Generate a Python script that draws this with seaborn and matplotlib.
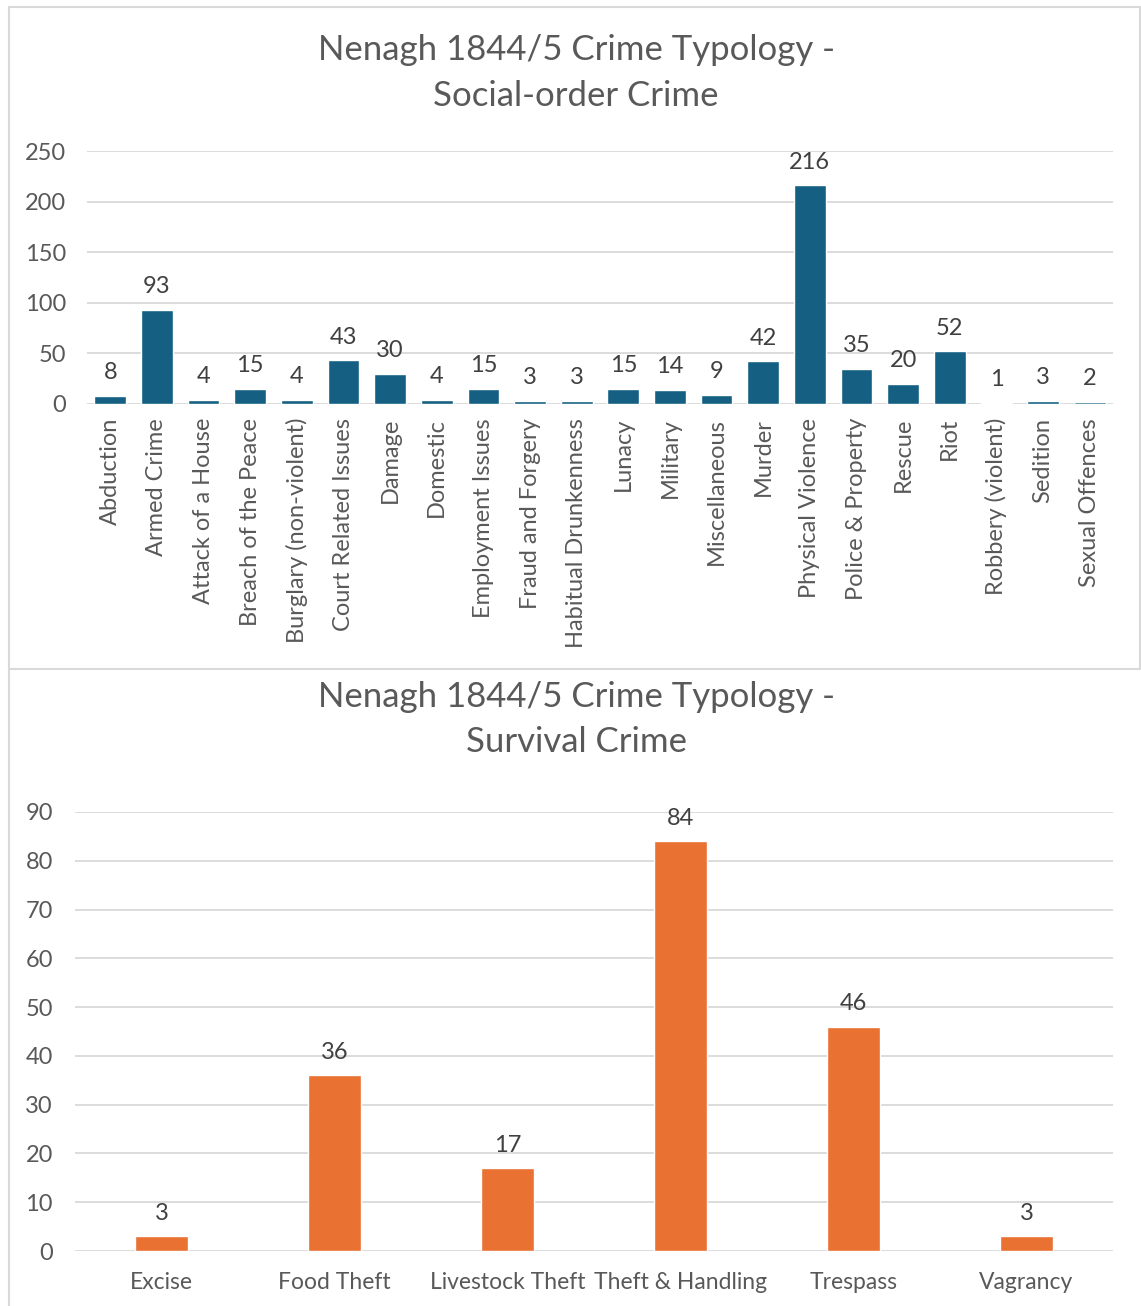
import matplotlib
matplotlib.use("Agg")
import matplotlib.pyplot as plt
from matplotlib.lines import Line2D
import seaborn as sns
import pandas as pd

# Social-order crime categories and counts
social_categories = [
    "Abduction", "Armed Crime", "Attack of a House", "Breach of the Peace",
    "Burglary (non-violent)", "Court Related Issues", "Damage", "Domestic",
    "Employment Issues", "Fraud and Forgery", "Habitual Drunkenness", "Lunacy",
    "Military", "Miscellaneous", "Murder", "Physical Violence",
    "Police & Property", "Rescue", "Riot", "Robbery (violent)", "Sedition",
    "Sexual Offences",
]
social_counts = [8, 93, 4, 15, 4, 43, 30, 4, 15, 3, 3, 15, 14, 9, 42, 216,
                 35, 20, 52, 1, 3, 2]

# Survival crime categories and counts
survival_categories = ["Excise", "Food Theft", "Livestock Theft",
                       "Theft & Handling", "Trespass", "Vagrancy"]
survival_counts = [3, 36, 17, 84, 46, 3]

social_ticks = [0, 50, 100, 150, 200, 250]
survival_ticks = [0, 10, 20, 30, 40, 50, 60, 70, 80, 90]

sns.set_theme(style="white")
plt.rcParams["font.family"] = ["Lato", "DejaVu Sans"]

TEXT = "#595959"
LABEL = "#404040"
GRID = "#D9D9D9"
BLUE = "#156082"
ORANGE = "#E97132"
FS = 17

W, H = 1141, 1306
fig = plt.figure(figsize=(W / 100, H / 100), dpi=100)


def px_axes(left, top, right, bottom):
    return fig.add_axes([left / W, 1 - bottom / H, (right - left) / W, (bottom - top) / H])


def style_axes(ax, ticks, ypad, xpad, xsize):
    ax.set_ylim(0, ticks[-1])
    ax.set_yticks(ticks)
    ax.yaxis.grid(True, color=GRID, linewidth=1.3)
    ax.set_axisbelow(True)
    for s in ax.spines.values():
        s.set_visible(False)
    ax.tick_params(axis="y", length=0, pad=ypad, labelsize=FS, labelcolor=TEXT)
    ax.tick_params(axis="x", length=0, pad=xpad, labelsize=xsize, labelcolor=TEXT)
    ax.set_xlabel("")
    ax.set_ylabel("")
    ax.set_facecolor("none")


# Top chart: social-order crime
social_df = pd.DataFrame({"category": social_categories, "count": social_counts})
ax1 = px_axes(87, 151, 1113, 404)
sns.barplot(data=social_df, x="category", y="count", color=BLUE,
            width=0.68, saturation=1, ax=ax1)
style_axes(ax1, social_ticks, 15, 10, FS)
ax1.set_xlim(-0.5, len(social_categories) - 0.5)
ax1.tick_params(axis="x", labelrotation=90)
for c in ax1.containers:
    ax1.bar_label(c, labels=[str(v) for v in social_counts], padding=9,
                  fontsize=FS, color=LABEL)

# Bottom chart: survival crime
survival_df = pd.DataFrame({"category": survival_categories, "count": survival_counts})
ax2 = px_axes(75, 812, 1113, 1251)
sns.barplot(data=survival_df, x="category", y="count", color=ORANGE,
            width=0.31, saturation=1, ax=ax2)
style_axes(ax2, survival_ticks, 16, 15, 16.5)
ax2.set_xlim(-0.5, len(survival_categories) - 0.5)
for c in ax2.containers:
    ax2.bar_label(c, labels=[str(v) for v in survival_counts], padding=9,
                  fontsize=FS, color=LABEL)

# Titles
for y, txt in [(50, "Nenagh 1844/5 Crime Typology -"), (96, "Social-order Crime"),
               (697, "Nenagh 1844/5 Crime Typology -"), (742, "Survival Crime")]:
    fig.text(576 / W, 1 - y / H, txt, ha="center", va="center",
             fontsize=25, color=TEXT)

# Chart frames
frame = dict(color=GRID, linewidth=1.5, transform=fig.transFigure)
for xs, ys in [([9, 9], [7, H]), ([9, 1141], [7, 7]), ([9, 1141], [669, 669]),
               ([1140, 1140], [7, 669])]:
    fig.add_artist(Line2D([x / W for x in xs], [1 - y / H for y in ys], **frame))

fig.savefig("out.png", dpi=100, facecolor="white")
